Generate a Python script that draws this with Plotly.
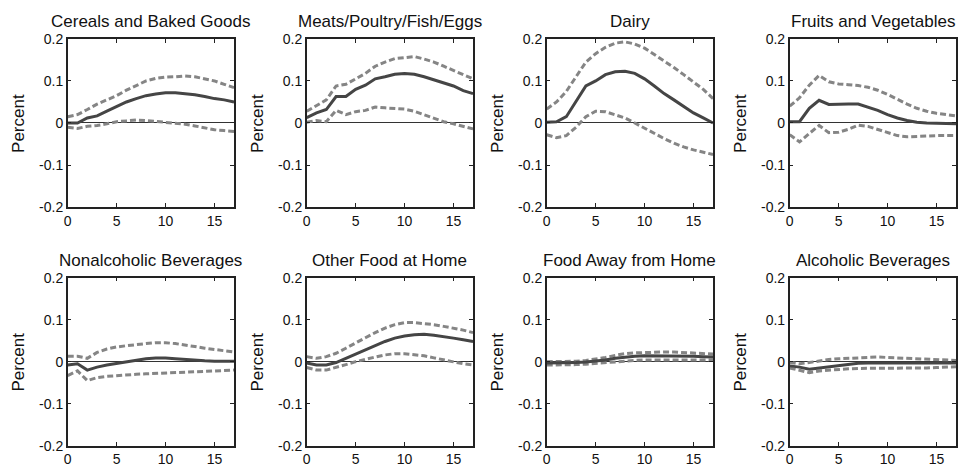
import plotly.graph_objects as go

horizons = list(range(18))

titles = ["Cereals and Baked Goods", "Meats/Poultry/Fish/Eggs", "Dairy", "Fruits and Vegetables",
          "Nonalcoholic Beverages", "Other Food at Home", "Food Away from Home", "Alcoholic Beverages"]

x_tickvals = [0, 5, 10, 15]
x_ticktext = ["0", "5", "10", "15"]
y_tickvals = [-0.2, -0.1, 0, 0.1, 0.2]
y_ticktext = ["-0.2", "-0.1", "0", "0.1", "0.2"]

cereals_mid = [0.0, 0.0, 0.012, 0.017, 0.028, 0.04, 0.05, 0.058, 0.065, 0.069, 0.072, 0.072, 0.07, 0.067, 0.063, 0.058, 0.055, 0.05]
cereals_hi = [0.015, 0.02, 0.032, 0.045, 0.055, 0.065, 0.078, 0.09, 0.1, 0.106, 0.109, 0.11, 0.112, 0.11, 0.105, 0.1, 0.092, 0.084]
cereals_lo = [-0.01, -0.013, -0.008, -0.006, -0.002, 0.003, 0.005, 0.007, 0.006, 0.004, 0.002, 0.0, -0.003, -0.007, -0.012, -0.016, -0.018, -0.02]

meats_mid = [0.013, 0.024, 0.032, 0.063, 0.063, 0.08, 0.09, 0.105, 0.11, 0.116, 0.118, 0.116, 0.11, 0.103, 0.095, 0.088, 0.077, 0.07]
meats_hi = [0.028, 0.042, 0.055, 0.088, 0.092, 0.105, 0.118, 0.135, 0.145, 0.153, 0.155, 0.158, 0.152, 0.145, 0.135, 0.125, 0.115, 0.105]
meats_lo = [0.002, 0.006, 0.003, 0.03, 0.02, 0.027, 0.03, 0.038, 0.036, 0.035, 0.033, 0.028, 0.02, 0.012, 0.003, -0.002, -0.008, -0.014]

dairy_mid = [0.002, 0.003, 0.015, 0.05, 0.088, 0.1, 0.115, 0.122, 0.123, 0.118, 0.105, 0.088, 0.07, 0.055, 0.04, 0.024, 0.012, 0.0]
dairy_hi = [0.033, 0.05, 0.075, 0.11, 0.145, 0.165, 0.18, 0.19, 0.193, 0.188, 0.178, 0.163, 0.148, 0.132, 0.115, 0.098, 0.08, 0.058]
dairy_lo = [-0.028, -0.035, -0.03, -0.01, 0.015, 0.028, 0.027, 0.02, 0.012, 0.0, -0.013, -0.025, -0.037, -0.048, -0.057, -0.064, -0.07, -0.075]

fruits_mid = [0.003, 0.003, 0.035, 0.054, 0.044, 0.045, 0.045, 0.045, 0.038, 0.03, 0.02, 0.012, 0.006, 0.002, 0.0, 0.0, -0.001, -0.002]
fruits_hi = [0.04, 0.06, 0.09, 0.113, 0.098, 0.093, 0.091, 0.089, 0.085, 0.078, 0.068, 0.056, 0.045, 0.035, 0.028, 0.023, 0.02, 0.017]
fruits_lo = [-0.028, -0.045, -0.025, -0.006, -0.023, -0.022, -0.015, -0.005, -0.008, -0.015, -0.022, -0.03, -0.033, -0.032, -0.03, -0.03, -0.03, -0.03]

nonalc_mid = [-0.008, -0.005, -0.02, -0.013, -0.008, -0.004, 0.0, 0.004, 0.007, 0.009, 0.009, 0.007, 0.005, 0.003, 0.002, 0.001, 0.001, 0.001]
nonalc_hi = [0.013, 0.013, 0.008, 0.022, 0.03, 0.035, 0.038, 0.041, 0.043, 0.045, 0.045, 0.043, 0.04, 0.036, 0.032, 0.029, 0.026, 0.023]
nonalc_lo = [-0.033, -0.022, -0.045, -0.038, -0.035, -0.033, -0.031, -0.03, -0.029, -0.028, -0.028, -0.027, -0.026, -0.025, -0.024, -0.023, -0.021, -0.02]

other_mid = [-0.003, -0.008, -0.008, -0.002, 0.008, 0.018, 0.028, 0.038, 0.048, 0.056, 0.061, 0.064, 0.065, 0.063, 0.06, 0.056, 0.052, 0.048]
other_hi = [0.012, 0.008, 0.012, 0.02, 0.032, 0.045, 0.057, 0.069, 0.08, 0.088, 0.093, 0.093, 0.091, 0.088, 0.084, 0.08, 0.075, 0.069]
other_lo = [-0.014, -0.02, -0.02, -0.014, -0.007, 0.0, 0.006, 0.011, 0.016, 0.019, 0.019, 0.017, 0.014, 0.009, 0.004, -0.001, -0.005, -0.008]

away_mid = [-0.003, -0.003, -0.003, -0.002, -0.001, 0.001, 0.004, 0.008, 0.011, 0.013, 0.014, 0.014, 0.014, 0.014, 0.013, 0.013, 0.012, 0.011]
away_hi = [0.0, 0.0, 0.0, 0.001, 0.003, 0.006, 0.01, 0.015, 0.019, 0.021, 0.022, 0.023, 0.023, 0.023, 0.022, 0.021, 0.02, 0.018]
away_lo = [-0.008, -0.008, -0.008, -0.007, -0.006, -0.004, -0.002, 0.0, 0.002, 0.003, 0.004, 0.004, 0.004, 0.004, 0.004, 0.004, 0.004, 0.004]

alc_mid = [-0.01, -0.013, -0.018, -0.015, -0.012, -0.009, -0.006, -0.004, -0.003, -0.003, -0.003, -0.003, -0.003, -0.003, -0.003, -0.003, -0.003, -0.003]
alc_hi = [-0.002, -0.005, -0.002, 0.002, 0.005, 0.007, 0.008, 0.009, 0.01, 0.011, 0.01, 0.009, 0.008, 0.007, 0.006, 0.005, 0.004, 0.003]
alc_lo = [-0.015, -0.02, -0.026, -0.022, -0.02, -0.018, -0.017, -0.016, -0.016, -0.016, -0.016, -0.016, -0.016, -0.015, -0.015, -0.014, -0.013, -0.012]

panels = [
    (cereals_mid, cereals_hi, cereals_lo),
    (meats_mid, meats_hi, meats_lo),
    (dairy_mid, dairy_hi, dairy_lo),
    (fruits_mid, fruits_hi, fruits_lo),
    (nonalc_mid, nonalc_hi, nonalc_lo),
    (other_mid, other_hi, other_lo),
    (away_mid, away_hi, away_lo),
    (alc_mid, alc_hi, alc_lo),
]

W, H = 962, 475
col_px = [(64, 231), (304, 471), (545, 712), (789, 956)]
row_px = [(32, 206), (279, 453)]

FONT = "Liberation Sans, Arial, Helvetica, sans-serif"
AXC = "#222222"

fig = go.Figure()
layout = dict(width=W, height=H, margin=dict(l=0, r=0, t=0, b=0),
              paper_bgcolor="white", plot_bgcolor="white", showlegend=False,
              font=dict(family=FONT, size=14, color="#111111"))
annotations = []

for i, (mid, hi, lo) in enumerate(panels):
    r, c = divmod(i, 4)
    n = i + 1
    xa = "x" if n == 1 else f"x{n}"
    ya = "y" if n == 1 else f"y{n}"
    for series, dash, color in ((hi, "6px,3px", "#858585"), (lo, "6px,3px", "#858585"), (mid, "solid", "#454545")):
        fig.add_trace(go.Scatter(x=horizons, y=series, mode="lines", xaxis=xa, yaxis=ya,
                                 line=dict(color=color, width=3, dash=dash), hoverinfo="skip"))
    x0, x1 = col_px[c]
    y0, y1 = row_px[r]
    xdom = [x0 / W, x1 / W]
    ydom = [1 - y1 / H, 1 - y0 / H]
    common = dict(showline=True, linecolor=AXC, linewidth=1.5, mirror="ticks", ticks="inside",
                  ticklen=4, tickwidth=1, tickcolor=AXC, showgrid=False,
                  tickfont=dict(family=FONT, size=14, color="#111111"))
    layout["xaxis" if n == 1 else f"xaxis{n}"] = dict(
        domain=xdom, range=[0, 17], anchor=ya, tickmode="array", tickvals=x_tickvals, ticktext=x_ticktext,
        zeroline=False, **common)
    layout["yaxis" if n == 1 else f"yaxis{n}"] = dict(
        domain=ydom, range=[-0.2, 0.2], anchor=xa, tickmode="array", tickvals=y_tickvals, ticktext=y_ticktext,
        zeroline=True, zerolinecolor="#333333", zerolinewidth=1, **common)
    annotations.append(dict(text=titles[i], xref="paper", yref="paper", x=(x0 + x1) / 2 / W,
                            y=1 - (y0 - 18) / H, xanchor="center", yanchor="middle", showarrow=False,
                            font=dict(family=FONT, size=17, color="#111111")))
    annotations.append(dict(text="Percent", xref="paper", yref="paper", x=(x0 - 49) / W,
                            y=1 - (y0 + y1) / 2 / H, xanchor="center", yanchor="middle", textangle=-90,
                            showarrow=False, font=dict(family=FONT, size=17, color="#111111")))

layout["annotations"] = annotations
fig.update_layout(**layout)
fig.write_html("out.html")
